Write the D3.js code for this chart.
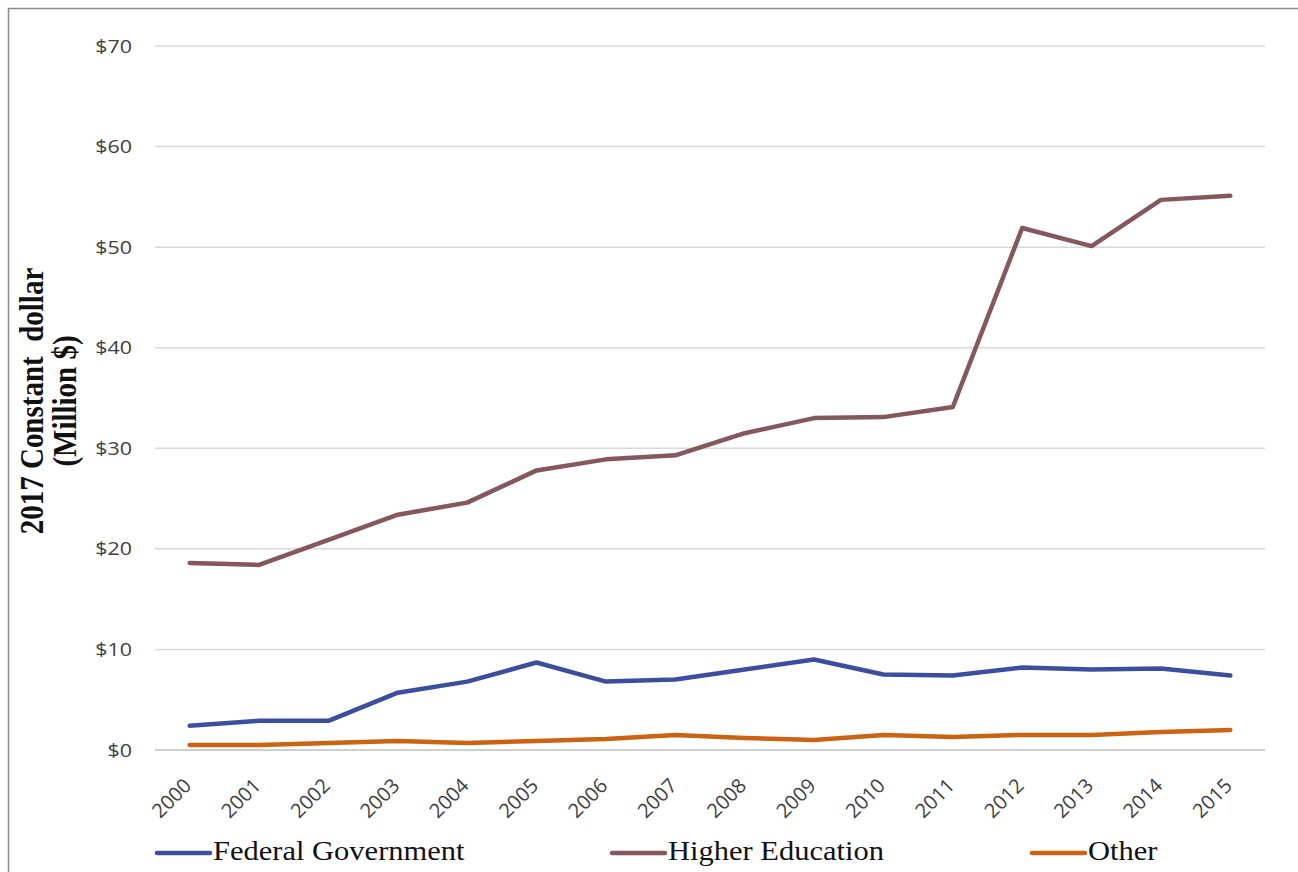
<!DOCTYPE html>
<html>
<head>
<meta charset="utf-8">
<script src="https://cdn.jsdelivr.net/npm/d3@7"></script>
<style>
  body { margin: 0; background: #fff; }
  svg { display: block; }
</style>
</head>
<body>
<svg width="1298" height="872"></svg>
<script>
let years = ['2000', '2001', '2002', '2003', '2004', '2005', '2006', '2007',
    '2008', '2009', '2010', '2011', '2012', '2013', '2014', '2015']
let federal = [2.4, 2.9, 2.9, 5.7, 6.8, 8.7, 6.8, 7.0, 8.0, 9.0, 7.5, 7.4, 8.2, 8.0, 8.1, 7.4]
let higherEd = [18.6, 18.4, 20.9, 23.4, 24.6, 27.8, 28.9, 29.3, 31.5, 33.0, 33.1, 34.1, 51.9, 50.1, 54.7, 55.1]
let other = [0.5, 0.5, 0.7, 0.9, 0.7, 0.9, 1.1, 1.5, 1.2, 1.0, 1.5, 1.3, 1.5, 1.5, 1.8, 2.0]
let yTicks = [0, 10, 20, 30, 40, 50, 60, 70]
let seriesNames = ['Federal Government', 'Higher Education', 'Other']

let colors = {
    'Federal Government': '#3c4f9f',
    'Higher Education': '#85585c',
    'Other': '#cc6313'
}

let series = [
    { name: seriesNames[0], values: federal },
    { name: seriesNames[1], values: higherEd },
    { name: seriesNames[2], values: other }
]

let svg = d3.select('svg')
let plotLeft = 155, plotRight = 1265, plotTop = 46, plotBottom = 750
let stretch = 1.19 // the original text is a bit wide

// frame
svg.append('path')
    .attr('d', 'M8.5,872 L8.5,8.5 L1298,8.5')
    .attr('fill', 'none')
    .attr('stroke', '#8c8c8c')
    .attr('stroke-width', 1.5)

let x = d3.scaleBand().domain(years).range([plotLeft, plotRight])
let y = d3.scaleLinear().domain([0, 70]).range([plotBottom, plotTop])

// gridlines
svg.append('g')
    .selectAll('line')
    .data(yTicks)
    .enter()
    .append('line')
    .attr('x1', plotLeft)
    .attr('x2', plotRight)
    .attr('y1', d => y(d))
    .attr('y2', d => y(d))
    .attr('stroke', d => d === 0 ? '#bfbfbf' : '#d9d9d9')
    .attr('stroke-width', 1.5)

let yAxis = svg.append('g')
    .attr('transform', 'translate(' + plotLeft + ',0)')
    .call(d3.axisLeft(y).tickValues(yTicks).tickSize(0)
        .tickFormat(d => '$' + d))
yAxis.select('.domain').remove()
yAxis.selectAll('text')
    .attr('x', 0)
    .attr('dy', '0.34em')
    .attr('transform', 'translate(-23,0) scale(' + stretch + ',1)')
    .attr('font-family', '"Open Sans", sans-serif')
    .attr('font-size', 18)
    .attr('fill', '#404040')

let xAxis = svg.append('g')
    .attr('transform', 'translate(0,' + plotBottom + ')')
    .call(d3.axisBottom(x).tickSize(0).tickPadding(0))
xAxis.select('.domain').remove()
xAxis.selectAll('text')
    .attr('font-family', '"Open Sans", sans-serif')
    .attr('font-size', 20)
    .attr('fill', '#404040')
    .attr('text-anchor', 'end')
    .attr('y', 0)
    .attr('dy', 0)
    .attr('transform', 'translate(3,37) rotate(-45)')

let line = d3.line()
    .x((d, i) => x(years[i]) + x.bandwidth() / 2)
    .y(d => y(d))

svg.append('g')
    .selectAll('path')
    .data(series)
    .enter()
    .append('path')
    .attr('d', d => line(d.values))
    .attr('fill', 'none')
    .attr('stroke', d => colors[d.name])
    .attr('stroke-width', 4.5)
    .attr('stroke-linejoin', 'round')
    .attr('stroke-linecap', 'round')

// y title
let title = svg.append('text')
    .attr('transform', 'translate(-2,401) scale(' + stretch + ',1) rotate(-90)')
    .attr('text-anchor', 'middle')
    .attr('font-family', '"Liberation Serif", "Times New Roman", serif')
    .attr('font-weight', 'bold')
    .attr('font-size', 29)
    .attr('fill', '#111')
title.append('tspan').attr('x', 0).attr('y', 37.5).attr('xml:space', 'preserve').text('2017 Constant  dollar')
title.append('tspan').attr('x', 0).attr('y', 65.5).text('(Million $)')

// legend
let legendX = [157, 612, 1032]
let legend = svg.append('g')
    .selectAll('g')
    .data(series)
    .enter()
    .append('g')
    .attr('transform', (d, i) => 'translate(' + legendX[i] + ',853)')
legend.append('line')
    .attr('x1', 0)
    .attr('x2', 53)
    .attr('stroke', d => colors[d.name])
    .attr('stroke-width', 4.5)
    .attr('stroke-linecap', 'round')
legend.append('text')
    .text(d => d.name)
    .attr('transform', 'translate(56,7) scale(1.09,1)')
    .attr('font-family', '"Liberation Serif", "Times New Roman", serif')
    .attr('font-size', 28)
    .attr('fill', '#111')
</script>
</body>
</html>
